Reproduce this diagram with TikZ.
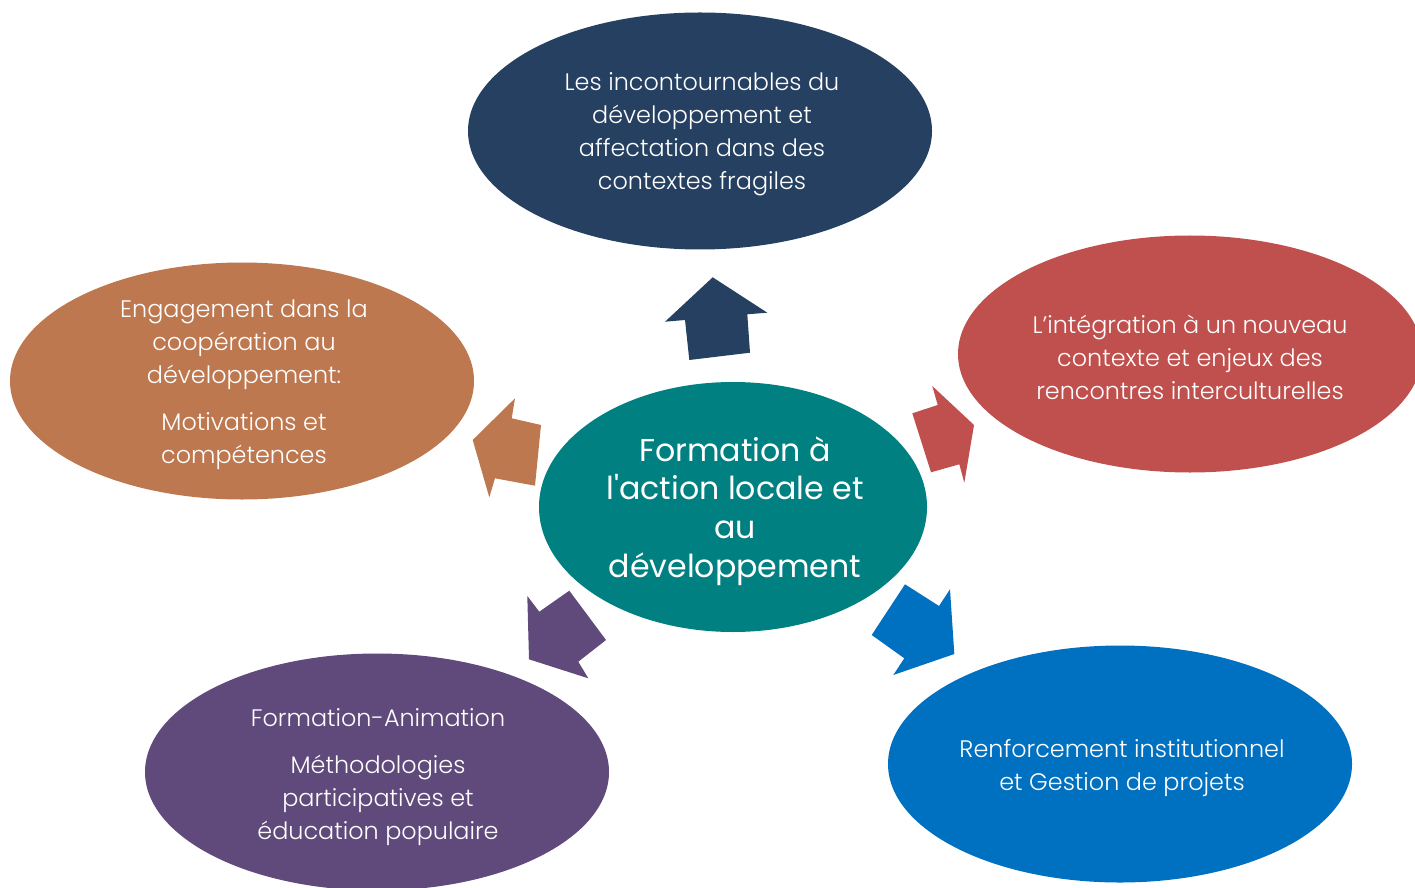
\documentclass[tikz,border=0pt]{standalone}
\usepackage{fontspec}
\setmainfont{Poppins}[UprightFont={* Light}]
\newfontfamily\centerfont{Poppins}
\usetikzlibrary{shapes.geometric}
\definecolor{cnavy}{HTML}{264061}
\definecolor{cteal}{HTML}{008080}
\definecolor{cred}{HTML}{C0504D}
\definecolor{corange}{HTML}{BE7850}
\definecolor{cpurple}{HTML}{604A7B}
\definecolor{cblue}{HTML}{0070C0}
\newcommand{\apos}{\symbol{39}}
\begin{document}
\begin{tikzpicture}[x=0.02cm,y=-0.02cm,
  bubble/.style={ellipse,draw=none,inner sep=0pt,minimum width=464*0.02cm,minimum height=237*0.02cm},
  txt/.style={text=white,align=center,font=\fontsize{13.6}{18.8}\selectfont,inner sep=0pt},
  ctxt/.style={text=white,align=center,font=\centerfont\fontsize{18}{22}\selectfont,inner sep=0pt},
  blockarrow/.style={draw=none}]
\useasboundingbox (0,0) rectangle (1415,888);
\clip (0,0) rectangle (1415,888);
% ellipses
\node[bubble,fill=cnavy] (top) at (700,131) {};
\node[bubble,fill=cred] (right) at (1190,354) {};
\node[bubble,fill=corange] (left) at (242,381) {};
\node[bubble,fill=cpurple] (botleft) at (377,772) {};
\node[bubble,fill=cblue] (botright) at (1120,764) {};
\node[bubble,fill=cteal,minimum width=388*0.02cm,minimum height=250*0.02cm] (center) at (733,507) {};
% block arrows
\fill[cnavy] (712.7,277.3) -- (767.3,312.7) -- (747.3,314.3) -- (750,352.7) -- (689.3,360) -- (685,320) -- (665,321.7) -- cycle;
\fill[cred] (974,425) -- (964.3,482.7) -- (959.3,464.3) -- (931,472.3) -- (912.3,413.3) -- (937.7,405) -- (932.3,386) -- cycle;
\fill[corange] (472.7,440) -- (515,398.3) -- (511.7,418.3) -- (541,425) -- (535,485.7) -- (495,478.3) -- (489.3,497.3) -- cycle;
\fill[cpurple] (529,659.3) -- (527.3,596) -- (539.3,611.7) -- (569.3,590.7) -- (606,640) -- (578.3,661.7) -- (588.3,678.3) -- cycle;
\fill[cblue] (954.3,654) -- (950,589.3) -- (939,606) -- (905,584.3) -- (871.7,635) -- (904.3,658.3) -- (893.3,675) -- cycle;
% texts
\node[txt] (ttop) at (702,134) {Les incontournables du\\d\'eveloppement et\\affectation dans des\\contextes fragiles};
\node[txt] (tright) at (1190,357) {L\apos int\'egration \`a un nouveau\\contexte et enjeux des\\rencontres interculturelles};
\node[txt] (tleft) at (244,385) {Engagement dans la\\coop\'eration au\\d\'eveloppement:\\[8pt]Motivations et\\comp\'etences};
\node[txt] (tbotleft) at (378,777) {Formation-Animation\\[8pt]M\'ethodologies\\participatives et\\\'education populaire};
\node[txt] (tbotright) at (1122,768) {Renforcement institutionnel\\et Gestion de projets};
\node[ctxt] (tcenter) at (735,511) {Formation \`a\\l\apos action locale et\\au\\d\'eveloppement};
\end{tikzpicture}
\end{document}
